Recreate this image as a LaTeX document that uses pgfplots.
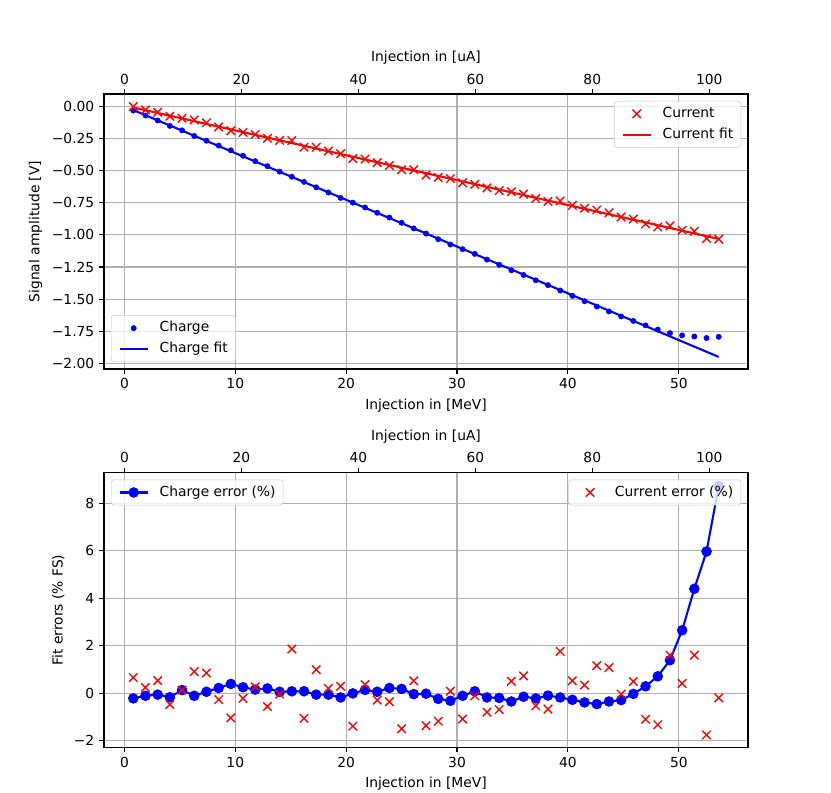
\documentclass[border=0pt]{standalone}
\usepackage{fontspec}
\setmainfont{DejaVu Sans}
\usepackage{pgfplots}
\usepackage{pgfplotstable}
\pgfplotsset{compat=1.18}
\definecolor{gridgray}{RGB}{176,176,176}
\definecolor{legedge}{RGB}{204,204,204}
\pgfplotstableread{
x q c ec ei
0.8 -0.0330 -0.0022 -0.22 0.66
1.9 -0.0711 -0.0278 -0.11 0.24
3.0 -0.1102 -0.0461 -0.06 0.53
4.1 -0.1522 -0.0779 -0.17 -0.48
5.2 -0.1869 -0.0929 0.13 0.13
6.3 -0.2312 -0.1061 -0.11 0.91
7.4 -0.2681 -0.1280 0.06 0.85
8.5 -0.3053 -0.1609 0.22 -0.27
9.6 -0.3422 -0.1903 0.39 -1.04
10.7 -0.3848 -0.2031 0.25 -0.22
11.8 -0.4266 -0.2193 0.15 0.27
12.9 -0.4657 -0.2492 0.20 -0.56
14.0 -0.5082 -0.2651 0.06 -0.04
15.1 -0.5479 -0.2667 0.08 1.86
16.2 -0.5880 -0.3183 0.08 -1.06
17.3 -0.6305 -0.3184 -0.06 0.99
18.4 -0.6705 -0.3478 -0.06 0.20
19.5 -0.7126 -0.3682 -0.18 0.29
20.6 -0.7496 -0.4069 -0.01 -1.39
21.7 -0.7869 -0.4101 0.14 0.36
22.8 -0.8284 -0.4381 0.06 -0.29
23.9 -0.8656 -0.4601 0.22 -0.36
25.0 -0.9063 -0.4933 0.18 -1.50
26.1 -0.9502 -0.4937 -0.04 0.52
27.2 -0.9899 -0.5346 -0.02 -1.37
28.3 -1.0339 -0.5539 -0.24 -1.18
29.4 -1.0753 -0.5622 -0.32 0.08
30.5 -1.1116 -0.5956 -0.11 -1.09
31.6 -1.1482 -0.6067 0.08 -0.11
32.7 -1.1928 -0.6352 -0.18 -0.80
33.8 -1.2332 -0.6553 -0.20 -0.69
34.9 -1.2760 -0.6643 -0.35 0.50
36.0 -1.3124 -0.6832 -0.15 0.73
37.1 -1.3536 -0.7176 -0.22 -0.53
38.2 -1.3915 -0.7403 -0.10 -0.67
39.3 -1.4329 -0.7365 -0.18 1.76
40.4 -1.4748 -0.7706 -0.28 0.52
41.5 -1.5168 -0.7939 -0.39 0.34
42.6 -1.5580 -0.8067 -0.46 1.16
43.7 -1.5961 -0.8288 -0.35 1.08
44.8 -1.6350 -0.8617 -0.29 -0.04
45.9 -1.6703 -0.8775 -0.03 0.49
47.0 -1.7047 -0.9153 0.29 -1.10
48.1 -1.7372 -0.9390 0.71 -1.33
49.2 -1.7650 -0.9299 1.39 1.60
50.3 -1.7825 -0.9636 2.65 0.41
51.4 -1.7911 -0.9725 4.40 1.60
52.5 -1.8031 -1.0286 5.97 -1.76
53.6 -1.7937 -1.0338 8.73 -0.20
}\data
\pgfplotsset{
  base/.style={
    scale only axis, width=465.42pt, anchor=south west,
    xmin=-1.84, xmax=56.24,
    axis line style={black, line width=0.8pt},
    every tick/.style={black, line width=0.8pt},
    major tick length=3.5pt, tick align=outside,
    tick label style={font=\normalsize},
    label style={font=\normalsize},
    legend cell align=left,
    legend image code/.code={\path[draw=none,fill=none] (0pt,-3pt) rectangle (20pt,3pt);
      \draw[opacity=1, mark repeat=2,mark phase=2] plot coordinates {(0pt,0pt) (10pt,0pt) (20pt,0pt)};},
    legend style={draw=legedge, rounded corners=2pt, fill=white, fill opacity=0.8, text opacity=1, draw opacity=1,
      font=\normalsize, inner xsep=5.5pt, inner ysep=4pt, row sep=5pt,
      nodes={inner sep=0pt, text height=7.8pt, text depth=2.4pt},
      /tikz/every odd column/.append style={column sep=8pt}},
  },
  mev/.style={base,
    xtick={0,10,20,30,40,50}, xticklabels={0,10,20,30,40,50},
    xtick pos=left, ytick pos=left, xlabel={Injection in [MeV]},
    grid=major, major grid style={gridgray, line width=0.8pt},
  },
  ua/.style={base, hide y axis,
    xtick={0,10.549,21.097,31.646,42.194,52.743}, xticklabels={0,20,40,60,80,100},
    xtick pos=right, xticklabel pos=right, xlabel={Injection in [uA]},
  },
  topp/.style={at={(75.16pt,305.70pt)}, height=198.74pt, ymin=-2.044, ymax=0.096},
  botp/.style={at={(75.16pt,32.30pt)}, height=198.45pt, ymin=-2.28, ymax=9.29},
}
\begin{document}
\begin{tikzpicture}
\useasboundingbox (0,0) rectangle (600.56pt,572.38pt);
% ---- top panel
\begin{axis}[mev, topp,
  ytick={-2,-1.75,-1.5,-1.25,-1,-0.75,-0.5,-0.25,0},
  yticklabels={−2.00,−1.75,−1.50,−1.25,−1.00,−0.75,−0.50,−0.25,0.00},
  ylabel={Signal amplitude [V]},
  legend style={at={(0,0)}, anchor=south west, xshift=5pt, yshift=5pt}]
\addplot[only marks, blue, mark=*, mark size=1.9pt] table[x=x,y=q]{\data};
\addlegendentry{Charge}
\addplot[blue, line width=1.5pt, no marks] coordinates {(0.8,-0.0291) (53.6,-1.9500)};
\addlegendentry{Charge fit}
\end{axis}
\begin{axis}[ua, topp,
  legend style={at={(1,1)}, anchor=north east, xshift=-5pt, yshift=-5pt}]
\addplot[only marks, red, mark=x, mark size=4.3pt, mark options={line width=1pt}] table[x=x,y=c]{\data};
\addlegendentry{Current}
\addplot[red, line width=1.5pt, no marks] coordinates {(0.8,-0.0090) (53.6,-1.0317)};
\addlegendentry{Current fit}
\end{axis}
% ---- bottom panel
\begin{axis}[mev, botp,
  ytick={-2,0,2,4,6,8}, yticklabels={−2,0,2,4,6,8},
  ylabel={Fit errors (\% FS)},
  legend style={at={(0,1)}, anchor=north west, xshift=5pt, yshift=-5pt}]
\addplot[blue, line width=1.5pt, mark=*, mark size=3.3pt, mark options={line width=1pt}] table[x=x,y=ec]{\data};
\addlegendentry{Charge error (\%)}
\end{axis}
\begin{axis}[ua, botp,
  legend style={at={(1,1)}, anchor=north east, xshift=-5pt, yshift=-5pt}]
\addplot[only marks, red, mark=x, mark size=4.3pt, mark options={line width=1pt}] table[x=x,y=ei]{\data};
\addlegendentry{Current error (\%)}
\end{axis}
\end{tikzpicture}
\end{document}
